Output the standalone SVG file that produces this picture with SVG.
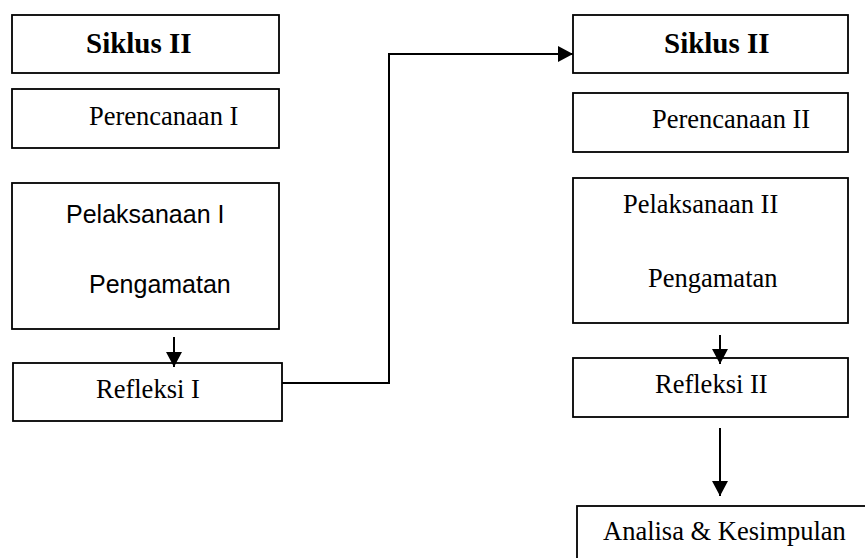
<svg xmlns="http://www.w3.org/2000/svg" width="865" height="558" viewBox="0 0 865 558">
<defs>
<style>
.box{fill:#fff;stroke:#000;stroke-width:1.8}
.t{font-family:"Liberation Serif","Times New Roman",serif;font-size:26.5px;fill:#000}
.b{font-family:"Liberation Serif","Times New Roman",serif;font-size:29px;font-weight:bold;fill:#000}
.s{font-family:"Liberation Sans",Arial,sans-serif;font-size:25px;fill:#000}
.c{fill:none;stroke:#000;stroke-width:2}
</style>
<marker id="ah" markerUnits="userSpaceOnUse" markerWidth="16" markerHeight="16" viewBox="0 0 16 16" refX="15" refY="8" orient="auto">
<path d="M0,0 L15,8 L0,16 Z" fill="#000"/>
</marker>
</defs>
<rect width="865" height="558" fill="#fff"/>
<g id="siklus1"><rect class="box" x="12" y="15" width="267" height="58"/><text class="b" x="86" y="53">Siklus II</text></g>
<g id="perencanaan1"><rect class="box" x="12" y="89" width="267" height="59"/><text class="t" x="89" y="125">Perencanaan I</text></g>
<g id="pelaksanaan1"><rect class="box" x="12" y="183" width="267" height="146"/><text class="s" x="66" y="223">Pelaksanaan I</text><text class="s" x="89" y="293">Pengamatan</text></g>
<g id="refleksi1"><rect class="box" x="13" y="363" width="269" height="58"/><text class="t" x="96" y="398">Refleksi I</text></g>
<g id="siklus2"><rect class="box" x="573" y="15" width="275" height="58"/><text class="b" x="664" y="53">Siklus II</text></g>
<g id="perencanaan2"><rect class="box" x="573" y="93" width="275" height="59"/><text class="t" x="652" y="128">Perencanaan II</text></g>
<g id="pelaksanaan2"><rect class="box" x="573" y="178" width="275" height="145"/><text class="t" x="623" y="213">Pelaksanaan II</text><text class="t" x="648" y="287">Pengamatan</text></g>
<g id="refleksi2"><rect class="box" x="573" y="358" width="275" height="59"/><text class="t" x="655" y="393">Refleksi II</text></g>
<g id="analisa"><rect class="box" x="577" y="506" width="300" height="70"/><text class="t" x="603" y="540">Analisa &amp; Kesimpulan</text></g>
<g id="connectors">
<path class="c" d="M174,337 V367" marker-end="url(#ah)"/>
<path class="c" d="M282,383 H389 V54 H573" marker-end="url(#ah)"/>
<path class="c" d="M720,335 V364" marker-end="url(#ah)"/>
<path class="c" d="M720,428 V496" marker-end="url(#ah)"/>
</g>
</svg>
